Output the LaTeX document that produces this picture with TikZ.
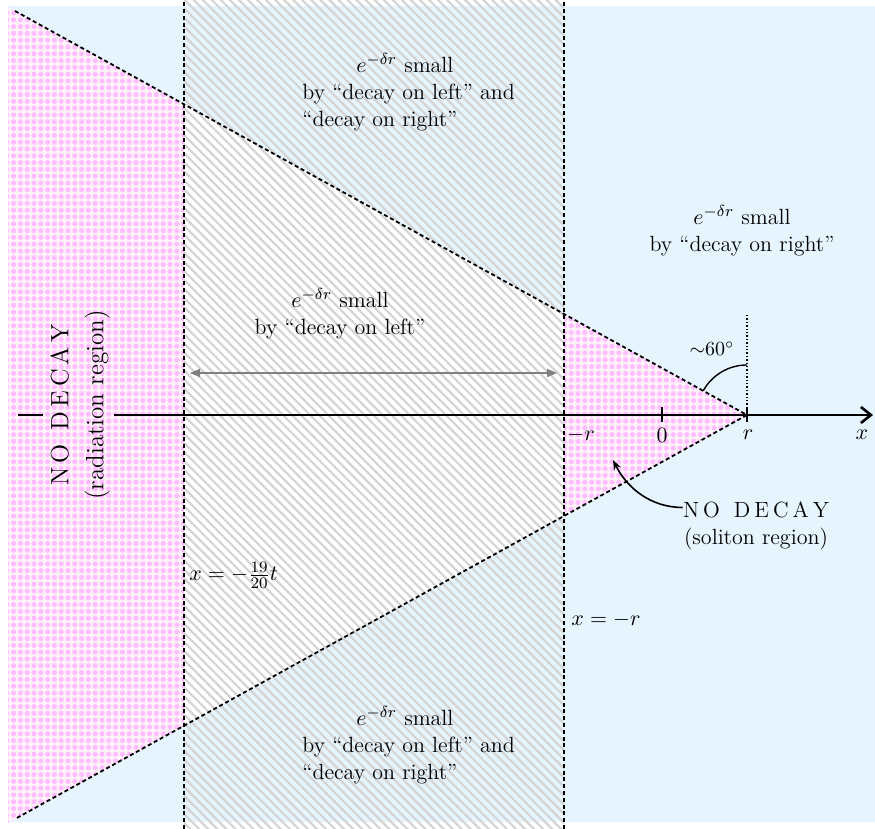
\documentclass[tikz,border=0pt]{standalone}
\usepackage{fontspec}
\usepackage{amsmath}
\usetikzlibrary{arrows.meta,patterns.meta,calc}
\definecolor{skyfill}{RGB}{230,244,253}
\definecolor{bubblepink}{RGB}{255,190,255}
\definecolor{hatchgray}{RGB}{212,212,212}
\pgfdeclarepattern{
  name=bubbles,
  type=uncolored,
  bottom left={\pgfpoint{-1.7pt}{-1.7pt}},
  top right={\pgfpoint{1.7pt}{1.7pt}},
  tile size={\pgfpoint{3.4pt}{3.4pt}},
  code={\pgfpathcircle{\pgfpointorigin}{1.3pt}\pgfusepath{fill}}
}
\newcommand{\edecay}{$e^{-\delta r}$}
\newcommand{\nodecay}{N\kern2pt O\hspace{7pt}D\kern2pt E\kern2pt C\kern2pt A\kern2pt Y}

\begin{document}
\begin{tikzpicture}[
    x=0.5pt, y=0.5pt,
    note/.style={font=\fontsize{11}{13.5}\selectfont, inner sep=0pt},
    marker/.style={font=\fontsize{11}{13.5}\selectfont, inner sep=0pt},
    bound/.style={dash pattern=on 2pt off 1.4pt, line width=0.9pt},
    axisline/.style={line width=1.3pt},
    tickmark/.style={line width=1.4pt},
    hatch/.style={pattern={Lines[angle=-45,distance=3.2pt,line width=1.1pt]},
                  pattern color=hatchgray},
    pinkdots/.style={pattern=bubbles, pattern color=bubblepink},
    span/.style={{Triangle[length=5pt,width=4pt]}-{Triangle[length=5pt,width=4pt]},
                 gray, line width=0.7pt},
    pointer/.style={-{Stealth[length=5pt]}, line width=0.8pt},
]
\useasboundingbox (0,0) rectangle (875,829);

% Key points
\coordinate (R) at (747,414);
\coordinate (TL) at (8,822);
\coordinate (BL) at (8,6);
\coordinate (TS) at (15,818);
\coordinate (BS) at (15,10);

% Regions
\fill[skyfill] (8,7) rectangle (875,823);
\fill[white] (R) -- (TL) -- (BL) -- cycle;
\begin{scope}
  \clip (8,0) rectangle (184,829) (564,0) rectangle (747,829);
  \fill[magenta!5] (R) -- (TL) -- (BL) -- cycle;
  \fill[pinkdots] (R) -- (TL) -- (BL) -- cycle;
\end{scope}
\fill[hatch] (184,0) rectangle (564,829);

% Boundaries
\coordinate (leftT) at (184,827);
\coordinate (leftB) at (184,0);
\coordinate (rightT) at (564,827);
\coordinate (rightB) at (564,0);
\draw[bound] (TS) -- (R) -- (BS);
\draw[bound] (leftB) -- (leftT);
\draw[bound] (rightB) -- (rightT);

% Axis
\coordinate (axL) at (18,414);
\coordinate (axLgap) at (43,414);
\coordinate (axRgap) at (114,414);
\coordinate (axEnd) at (873,414);
\draw[axisline] (axL) -- (axLgap);
\draw[axisline, -{Straight Barb[length=5pt,width=8pt]}] (axRgap) -- (axEnd);
\draw[tickmark] (662,407) -- (662,422);
\draw[tickmark] (747,407) -- (747,422);
\node[marker] (lblmr) at (581,394) {$-r$};
\node[marker] (lblzero) at (662,394) {$0$};
\node[marker] (lblr) at (748,394) {$r$};
\node[marker] (lblx) at (862,394) {$x$};

% Angle
\coordinate (Rtop) at (747,514);
\draw[densely dotted, line width=0.7pt] (R) -- (Rtop);
\draw[line width=0.7pt] ($(R)+(90:50)$) arc[start angle=90, end angle=151, radius=50];
\node[marker, font=\fontsize{10}{12}\selectfont] (anglbl) at (712,480) {$\sim$60$^\circ$};

% Span arrow
\coordinate (spanL) at (190,456);
\coordinate (spanR) at (557,456);
\draw[span] (spanL) -- (spanR);

% Region notes
\node[note, align=left, anchor=west] (topnote) at (302,737)
  {\hspace*{27pt}\edecay{} small\\by ``decay on left'' and\\``decay on right''};
\node[note, align=center] (midnote) at (340,515) {\edecay{} small\\by ``decay on left''};
\node[note, align=center] (rightnote) at (742,598) {\edecay{} small\\by ``decay on right''};
\node[note, align=left, anchor=west] (botnote) at (302,84)
  {\hspace*{27pt}\edecay{} small\\by ``decay on left'' and\\``decay on right''};

% No decay labels
\node[note, rotate=90, align=center, font=\fontsize{12.5}{17.5}\selectfont] (radlbl) at (80,424)
  {\nodecay\\(radiation region)};
\node[note, align=center] (sollbl) at (756,303) {\nodecay\\(soliton region)};
\coordinate (soltip) at (613,369);
\draw[pointer] ([yshift=-3pt]sollbl.north west) .. controls +(-32,0) and +(14,-28) .. (soltip);

% Line labels
\node[marker, anchor=west] (leftlbl) at (189,254) {$x=-\tfrac{19}{20}t$};
\node[marker, anchor=west] (rightlbl) at (571,209) {$x=-r$};

\end{tikzpicture}
\end{document}
